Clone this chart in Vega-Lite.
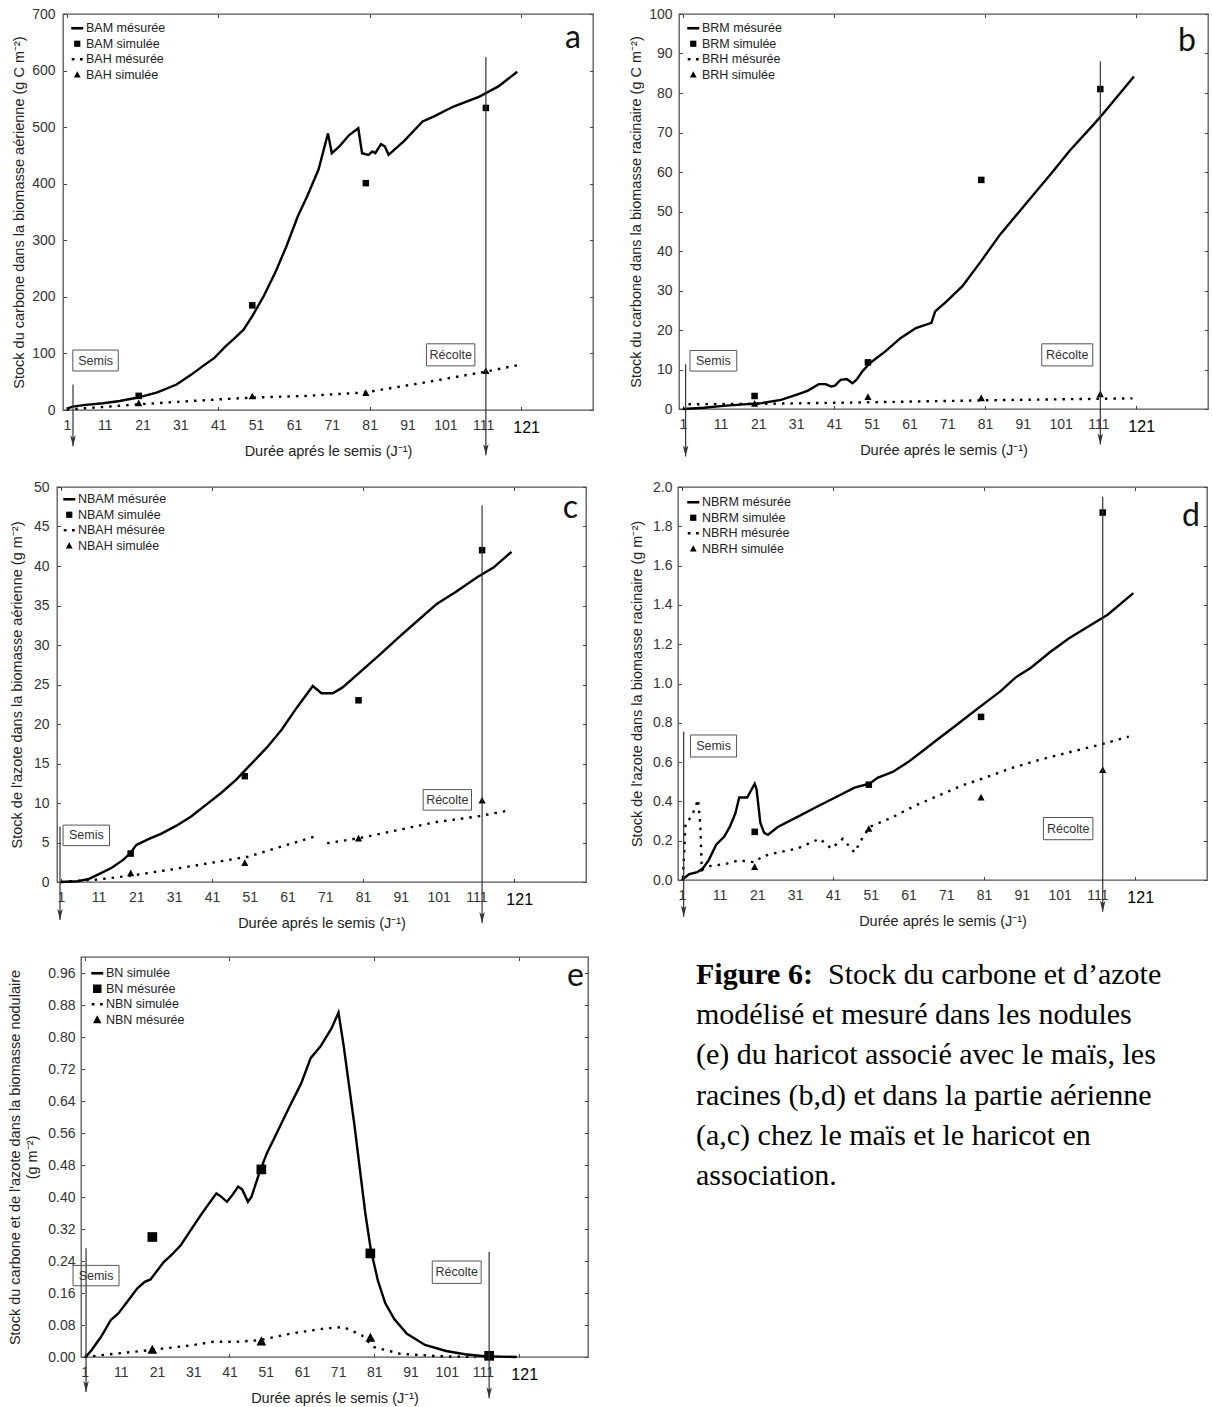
{
"$schema":"https://vega.github.io/schema/vega-lite/v6.json",
"background":"white",
"padding":{"left":0,"top":0,"right":0,"bottom":0},
"spacing":0,
"bounds":"flush",
"resolve":{"scale":{"shape":"independent"},"legend":{"shape":"independent"}},
"config":{
 "view":{"stroke":"#555","strokeWidth":1.3},
 "axis":{"grid":false,"labelFont":"Liberation Sans","labelFontSize":14,"labelColor":"#333","titleFont":"Liberation Sans","titleFontSize":14.5,"titleFontWeight":"normal","titleColor":"#222","tickColor":"#444","tickWidth":1},
 "legend":{"orient":"top-left","padding":0,"symbolSize":100,"labelFont":"Liberation Sans","labelFontSize":12.5,"labelColor":"#222","rowPadding":2.5,"labelOffset":2.5,"symbolFillColor":"#000","symbolStrokeWidth":0,"symbolOpacity":1,"labelLimit":0}
},
"datasets":{
 "a_solid":[{"day":1,"v":2},{"day":2.5,"v":6},{"day":6,"v":9},{"day":10.6,"v":12},{"day":15,"v":16},{"day":19.8,"v":22},{"day":24.9,"v":31},{"day":30,"v":45},{"day":34,"v":63},{"day":37,"v":78},{"day":40,"v":92},{"day":43,"v":113},{"day":45,"v":125},{"day":47.7,"v":142},{"day":50,"v":166},{"day":53,"v":201},{"day":56,"v":242},{"day":59,"v":289},{"day":62,"v":342},{"day":64.5,"v":378},{"day":67.5,"v":425},{"day":70,"v":489},{"day":71,"v":454},{"day":73,"v":466},{"day":75.6,"v":486},{"day":78,"v":498},{"day":79,"v":454},{"day":80.7,"v":451},{"day":81.7,"v":457},{"day":82.5,"v":454},{"day":84,"v":470},{"day":85,"v":466},{"day":86,"v":451},{"day":90,"v":475},{"day":95,"v":510},{"day":98,"v":519},{"day":103,"v":536},{"day":110,"v":554},{"day":115,"v":572},{"day":120,"v":598}],
 "a_dot":[{"day":1,"v":1},{"day":10,"v":5},{"day":19.8,"v":10},{"day":34,"v":16},{"day":50,"v":22},{"day":64.5,"v":25},{"day":79.7,"v":31},{"day":95,"v":48},{"day":111,"v":67},{"day":120,"v":79}],
 "a_pts":[{"day":20,"v":25,"s":"BAM simulée"},{"day":50,"v":185,"s":"BAM simulée"},{"day":80,"v":401,"s":"BAM simulée"},{"day":111.7,"v":534,"s":"BAM simulée"},{"day":20,"v":12,"s":"BAH simulée"},{"day":50,"v":24,"s":"BAH simulée"},{"day":80,"v":30,"s":"BAH simulée"},{"day":111.7,"v":69,"s":"BAH simulée"}],
 "a_arr":[{"day":2.64,"top":45,"tip":-64},{"day":111.7,"top":624,"tip":-80}],
 "a_box":[{"label":"Semis","x1":2.6,"x2":14.6,"y1":69,"y2":106,"xc":8.6,"yc":87.5},{"label":"Récolte","x1":96,"x2":108.8,"y1":78,"y2":117,"xc":102.4,"yc":97.5}],
 "b_solid":[{"day":1,"v":0},{"day":6.6,"v":0.3},{"day":11.7,"v":0.8},{"day":18.9,"v":1.3},{"day":21.9,"v":1.5},{"day":27,"v":2.3},{"day":31,"v":3.6},{"day":34,"v":4.6},{"day":37,"v":6.3},{"day":38.8,"v":6.3},{"day":40.3,"v":5.7},{"day":41.3,"v":5.9},{"day":42.8,"v":7.4},{"day":44.4,"v":7.6},{"day":45.9,"v":6.5},{"day":47,"v":7.4},{"day":48.5,"v":9.5},{"day":50.5,"v":11.6},{"day":54.6,"v":14.6},{"day":58.7,"v":18},{"day":62.7,"v":20.5},{"day":66.8,"v":21.8},{"day":67.8,"v":24.7},{"day":70.9,"v":27.3},{"day":75,"v":31.1},{"day":80,"v":37.5},{"day":85,"v":44.2},{"day":91.3,"v":51.4},{"day":98.4,"v":59.5},{"day":103.5,"v":65.5},{"day":109.7,"v":72},{"day":112,"v":74.5},{"day":120.4,"v":84.2}],
 "b_dot":[{"day":2.5,"v":1.2},{"day":21.9,"v":1.3},{"day":50.5,"v":1.7},{"day":81,"v":2.2},{"day":120,"v":2.7}],
 "b_pts":[{"day":20,"v":3.3,"s":"BRM simulée"},{"day":50,"v":11.8,"s":"BRM simulée"},{"day":80,"v":58,"s":"BRM simulée"},{"day":111.5,"v":81,"s":"BRM simulée"},{"day":20,"v":1.3,"s":"BRH simulée"},{"day":50,"v":3,"s":"BRH simulée"},{"day":80,"v":2.7,"s":"BRH simulée"},{"day":111.5,"v":3.7,"s":"BRH simulée"}],
 "b_arr":[{"day":1.75,"top":11.3,"tip":-12},{"day":111.5,"top":88,"tip":-9}],
 "b_box":[{"label":"Semis","x1":2.9,"x2":15.3,"y1":9.6,"y2":14.8,"xc":9.1,"yc":12.2},{"label":"Récolte","x1":96,"x2":109.5,"y1":10.9,"y2":16.5,"xc":102.75,"yc":13.7}],
 "c_solid":[{"day":1,"v":0},{"day":5.5,"v":0.1},{"day":8.5,"v":0.4},{"day":11.5,"v":1.1},{"day":14.5,"v":1.8},{"day":17.5,"v":2.8},{"day":19.5,"v":3.7},{"day":21,"v":4.7},{"day":24.5,"v":5.5},{"day":27.5,"v":6.1},{"day":31.5,"v":7.1},{"day":35.5,"v":8.3},{"day":39.5,"v":9.8},{"day":43.5,"v":11.3},{"day":47.5,"v":13},{"day":50.5,"v":14.5},{"day":55.5,"v":17},{"day":59.5,"v":19.3},{"day":63.5,"v":22.1},{"day":67.7,"v":24.8},{"day":70,"v":23.9},{"day":73,"v":23.9},{"day":75.5,"v":24.6},{"day":80.5,"v":26.7},{"day":85.5,"v":28.8},{"day":90.5,"v":31},{"day":95.5,"v":33.1},{"day":100.5,"v":35.2},{"day":105.5,"v":36.7},{"day":111.3,"v":38.6},{"day":115.5,"v":39.8},{"day":120.3,"v":41.8}],
 "c_dot":[{"day":1,"v":0,"g":1},{"day":10.5,"v":0.3,"g":1},{"day":19.5,"v":0.8,"g":1},{"day":30.5,"v":1.6,"g":1},{"day":40.5,"v":2.4,"g":1},{"day":50.5,"v":3.2,"g":1},{"day":59.5,"v":4.5,"g":1},{"day":68.5,"v":5.8,"g":1},{"day":71.5,"v":4.9,"g":2},{"day":80.5,"v":5.6,"g":2},{"day":90.5,"v":6.6,"g":2},{"day":100.5,"v":7.6,"g":2},{"day":111.3,"v":8.3,"g":2},{"day":120,"v":9.1,"g":2}],
 "c_pts":[{"day":19.5,"v":3.6,"s":"NBAM simulée"},{"day":49.7,"v":13.4,"s":"NBAM simulée"},{"day":79.8,"v":23,"s":"NBAM simulée"},{"day":112.5,"v":42,"s":"NBAM simulée"},{"day":19.5,"v":1.1,"s":"NBAH simulée"},{"day":49.7,"v":2.4,"s":"NBAH simulée"},{"day":79.8,"v":5.5,"s":"NBAH simulée"},{"day":112.5,"v":10.3,"s":"NBAH simulée"}],
 "c_arr":[{"day":0.8,"top":7,"tip":-4.8},{"day":112.5,"top":47.7,"tip":-5.2}],
 "c_box":[{"label":"Semis","x1":1.6,"x2":13.9,"y1":4.6,"y2":7.2,"xc":7.75,"yc":5.9},{"label":"Récolte","x1":96.9,"x2":109.7,"y1":9.1,"y2":11.7,"xc":103.3,"yc":10.4}],
 "d_solid":[{"day":1,"v":0},{"day":3,"v":0.03},{"day":5.1,"v":0.04},{"day":6.6,"v":0.06},{"day":8.1,"v":0.1},{"day":10.1,"v":0.18},{"day":12.2,"v":0.22},{"day":13.7,"v":0.27},{"day":15.2,"v":0.34},{"day":16.2,"v":0.42},{"day":18.3,"v":0.42},{"day":20.3,"v":0.49},{"day":20.8,"v":0.46},{"day":21.8,"v":0.29},{"day":22.8,"v":0.24},{"day":23.8,"v":0.23},{"day":26.4,"v":0.27},{"day":31.5,"v":0.32},{"day":36.5,"v":0.37},{"day":41.6,"v":0.42},{"day":46.7,"v":0.47},{"day":50.7,"v":0.49},{"day":52.8,"v":0.52},{"day":56.8,"v":0.55},{"day":60.9,"v":0.6},{"day":65,"v":0.66},{"day":69,"v":0.72},{"day":73.1,"v":0.78},{"day":77.1,"v":0.84},{"day":81.2,"v":0.9},{"day":85.3,"v":0.96},{"day":89.3,"v":1.03},{"day":93.4,"v":1.08},{"day":98.5,"v":1.16},{"day":103.5,"v":1.23},{"day":108.6,"v":1.29},{"day":113.7,"v":1.35},{"day":120.5,"v":1.46}],
 "d_dot":[{"day":1.3,"v":0.01},{"day":2,"v":0.29},{"day":3.5,"v":0.32},{"day":4.6,"v":0.37},{"day":5.3,"v":0.41},{"day":5.9,"v":0.28},{"day":6.3,"v":0.05},{"day":8.1,"v":0.07},{"day":12.2,"v":0.08},{"day":16.2,"v":0.1},{"day":20.3,"v":0.09},{"day":22.3,"v":0.12},{"day":26.4,"v":0.14},{"day":31.5,"v":0.16},{"day":37.5,"v":0.21},{"day":40.6,"v":0.16},{"day":43.6,"v":0.21},{"day":46.7,"v":0.14},{"day":48.7,"v":0.21},{"day":50.7,"v":0.27},{"day":56.8,"v":0.32},{"day":62.9,"v":0.38},{"day":69,"v":0.43},{"day":75.1,"v":0.48},{"day":81.2,"v":0.52},{"day":88.3,"v":0.57},{"day":95.4,"v":0.61},{"day":103.5,"v":0.65},{"day":112,"v":0.69},{"day":119.3,"v":0.73}],
 "d_pts":[{"day":20.3,"v":0.245,"s":"NBRM simulée"},{"day":50.5,"v":0.485,"s":"NBRM simulée"},{"day":80.2,"v":0.83,"s":"NBRM simulée"},{"day":112.4,"v":1.87,"s":"NBRM simulée"},{"day":20.3,"v":0.066,"s":"NBRH simulée"},{"day":50.5,"v":0.26,"s":"NBRH simulée"},{"day":80.2,"v":0.42,"s":"NBRH simulée"},{"day":112.4,"v":0.56,"s":"NBRH simulée"}],
 "d_arr":[{"day":1.5,"top":0.755,"tip":-0.187},{"day":112.4,"top":1.95,"tip":-0.161}],
 "d_box":[{"label":"Semis","x1":3.3,"x2":15.5,"y1":0.626,"y2":0.738,"xc":9.4,"yc":0.682},{"label":"Récolte","x1":96.7,"x2":109.8,"y1":0.205,"y2":0.318,"xc":103.25,"yc":0.2615}],
 "e_solid":[{"day":1.3,"v":0},{"day":2.9,"v":0.017},{"day":5.5,"v":0.05},{"day":8.2,"v":0.092},{"day":10.3,"v":0.109},{"day":12.4,"v":0.134},{"day":15.5,"v":0.171},{"day":17.6,"v":0.188},{"day":19.2,"v":0.194},{"day":20.8,"v":0.213},{"day":22.9,"v":0.238},{"day":25,"v":0.255},{"day":27.6,"v":0.28},{"day":30.3,"v":0.317},{"day":33.4,"v":0.359},{"day":36,"v":0.392},{"day":37.4,"v":0.409},{"day":38.7,"v":0.401},{"day":40.3,"v":0.388},{"day":41.8,"v":0.405},{"day":43.4,"v":0.426},{"day":44.5,"v":0.419},{"day":46.1,"v":0.388},{"day":47.1,"v":0.401},{"day":49.2,"v":0.459},{"day":51.3,"v":0.509},{"day":54.5,"v":0.568},{"day":57.6,"v":0.626},{"day":60.8,"v":0.684},{"day":63.4,"v":0.747},{"day":66.1,"v":0.776},{"day":69.2,"v":0.822},{"day":71.1,"v":0.861},{"day":72.5,"v":0.78},{"day":74,"v":0.68},{"day":75.5,"v":0.58},{"day":77,"v":0.47},{"day":78.5,"v":0.36},{"day":80,"v":0.27},{"day":82,"v":0.19},{"day":84,"v":0.135},{"day":86.5,"v":0.095},{"day":90,"v":0.058},{"day":95,"v":0.03},{"day":100.8,"v":0.015},{"day":106,"v":0.007},{"day":111.3,"v":0.002},{"day":120.3,"v":0}],
 "e_dot":[{"day":1,"v":0},{"day":9.2,"v":0.008},{"day":19.7,"v":0.018},{"day":30.3,"v":0.029},{"day":36.6,"v":0.038},{"day":42.9,"v":0.038},{"day":49.2,"v":0.042},{"day":57.6,"v":0.058},{"day":67.1,"v":0.071},{"day":72.4,"v":0.075},{"day":77.6,"v":0.054},{"day":80.8,"v":0.025},{"day":88.2,"v":0.008},{"day":98.7,"v":0.002},{"day":109,"v":0}],
 "e_pts":[{"day":19.7,"v":0.3,"s":"BN mésurée"},{"day":49.8,"v":0.469,"s":"BN mésurée"},{"day":79.9,"v":0.259,"s":"BN mésurée"},{"day":112.7,"v":0.003,"s":"BN mésurée"},{"day":19.7,"v":0.018,"s":"NBN mésurée"},{"day":49.8,"v":0.039,"s":"NBN mésurée"},{"day":79.9,"v":0.048,"s":"NBN mésurée"}],
 "e_arr":[{"day":1.4,"top":0.272,"tip":-0.0875},{"day":112.7,"top":0.263,"tip":-0.103}],
 "e_box":[{"label":"Semis","x1":-2.2,"x2":10.5,"y1":0.178,"y2":0.229,"xc":4.15,"yc":0.2035},{"label":"Récolte","x1":97,"x2":110.5,"y1":0.184,"y2":0.24,"xc":103.75,"yc":0.212}],
 "cap_bold":[{"line":1,"t":"Figure 6:"}],
 "cap_first":[{"line":1,"t":"Stock du carbone et d’azote"}],
 "cap_rest":[{"line":2,"t":"modélisé et mesuré dans les nodules"},{"line":3,"t":"(e) du haricot associé avec le maïs, les"},{"line":4,"t":"racines (b,d) et dans la partie aérienne"},{"line":5,"t":"(a,c) chez le maïs et le haricot en"},{"line":6,"t":"association."}]
},
"vconcat":[
 {"vconcat":[
  {"width":1,"height":14,"view":{"stroke":null},"data":{"values":[]},"mark":"point"},
  {"hconcat":[
   {"width":62.7,"height":1,"view":{"stroke":null},"data":{"values":[]},"mark":"point"},
   {"hconcat":[
    {"width":530,"height":396,
     "title":{"text":"a","anchor":"end","frame":"group","orient":"top","offset":0,"dx":-12,"dy":73,"baseline":"alphabetic","font":"Lato","fontSize":32,"fontWeight":"normal","color":"#111"},
     "resolve":{"axis":{"x":"independent","y":"independent"}},
     "layer":[
      {"data":{"name":"a_solid"},"mark":{"type":"line","color":"#000","strokeWidth":2.4},
       "encoding":{"x":{"field":"day","type":"quantitative","scale":{"domain":[0,140],"nice":false,"zero":false},"axis":{"orient":"bottom","values":[1,11,21,31,41,51,61,71,81,91,101,111,121],"ticks":false,"tickSize":0,"domain":false,"labelPadding":{"condition":{"test":"datum.value === 121","value":9.5},"value":8},"labelOffset":{"condition":{"test":"datum.value === 121","value":5},"value":0},"labelFlush":false,"labelOverlap":false,"labelFontSize":{"condition":{"test":"datum.value === 121","value":16},"value":14},"labelColor":{"condition":{"test":"datum.value === 121","value":"#000"},"value":"#333"},"title":"Durée aprés le semis (J⁻¹)","titleY":45,"titleBaseline":"alphabetic"}},
        "y":{"field":"v","type":"quantitative","scale":{"domain":[0,700],"nice":false},"axis":{"orient":"left","values":[0,100,200,300,400,500,600,700],"ticks":false,"tickSize":0,"domain":false,"labelPadding":8,"labelFlush":false,"title":"Stock du carbone dans la biomasse aérienne (g C m⁻²)","titleX":-44,"titleBaseline":"middle"}}}},
      {"data":{"name":"a_dot"},"mark":{"type":"line","color":"#000","strokeWidth":2.4,"strokeDash":[2.5,6],"strokeCap":"butt"},
       "encoding":{"x":{"field":"day","type":"quantitative","axis":{"orient":"bottom","values":[1,41,81,121],"labels":false,"domain":false,"tickSize":3.5,"offset":-3.5,"title":null}},
        "y":{"field":"v","type":"quantitative","axis":{"orient":"left","values":[0,100,200,300,400,500,600,700],"labels":false,"domain":false,"tickSize":3.5,"offset":-3.5,"title":null}}}},
      {"data":{"name":"a_pts"},"mark":{"type":"point","filled":true,"color":"#000","opacity":1,"size":110,"strokeWidth":0},
       "encoding":{"x":{"field":"day","type":"quantitative","axis":{"orient":"top","values":[1,41,81,121],"labels":false,"domain":false,"tickSize":3.5,"offset":-3.5,"title":null}},
        "y":{"field":"v","type":"quantitative","axis":{"orient":"right","values":[0,100,200,300,400,500,600,700],"labels":false,"domain":false,"tickSize":3.5,"offset":-3.5,"title":null}},
        "shape":{"field":"s","type":"nominal","scale":{"domain":["BAM mésurée","BAM simulée","BAH mésurée","BAH simulée"],"range":["M-1.2,-0.26H1.2V0.26H-1.2Z","M-0.62,-0.62H0.62V0.62H-0.62Z","M-1.1,-0.27H-0.55V0.27H-1.1Z M0.55,-0.27H1.1V0.27H0.55Z","M0,-0.72L0.68,0.56H-0.68Z"]},"legend":{"title":null,"orient":"top-left","offset":8}}}},
      {"data":{"name":"a_arr"},"mark":{"type":"rule","color":"#333","strokeWidth":1.2},"encoding":{"x":{"field":"day","type":"quantitative","axis":null},"y":{"field":"top","type":"quantitative","axis":null},"y2":{"field":"tip"}}},
      {"data":{"name":"a_arr"},"mark":{"type":"point","shape":"M0,0L-0.5,-2L0,-1.5L0.5,-2Z","filled":true,"color":"#333","opacity":1,"size":121,"strokeWidth":0},"encoding":{"x":{"field":"day","type":"quantitative","axis":null},"y":{"field":"tip","type":"quantitative","axis":null}}},
      {"data":{"name":"a_box"},"mark":{"type":"rect","fill":"transparent","stroke":"#555","strokeWidth":1},"encoding":{"x":{"field":"x1","type":"quantitative","axis":null},"x2":{"field":"x2"},"y":{"field":"y1","type":"quantitative","axis":null},"y2":{"field":"y2"}}},
      {"data":{"name":"a_box"},"mark":{"type":"text","font":"Liberation Sans","fontSize":12.5,"color":"#333","baseline":"middle","align":"center"},"encoding":{"x":{"field":"xc","type":"quantitative","axis":null},"y":{"field":"yc","type":"quantitative","axis":null},"text":{"field":"label"}}}
     ]},
    {"width":529,"height":395,
     "title":{"text":"b","anchor":"end","frame":"group","orient":"top","offset":0,"dx":-12,"dy":76,"baseline":"alphabetic","font":"Lato","fontSize":32,"fontWeight":"normal","color":"#111"},
     "resolve":{"axis":{"x":"independent","y":"independent"}},
     "layer":[
      {"data":{"name":"b_solid"},"mark":{"type":"line","color":"#000","strokeWidth":2.4},
       "encoding":{"x":{"field":"day","type":"quantitative","scale":{"domain":[0,140],"nice":false,"zero":false},"axis":{"orient":"bottom","values":[1,11,21,31,41,51,61,71,81,91,101,111,121],"ticks":false,"tickSize":0,"domain":false,"labelPadding":{"condition":{"test":"datum.value === 121","value":9.5},"value":8},"labelOffset":{"condition":{"test":"datum.value === 121","value":5},"value":0},"labelFlush":false,"labelOverlap":false,"labelFontSize":{"condition":{"test":"datum.value === 121","value":16},"value":14},"labelColor":{"condition":{"test":"datum.value === 121","value":"#000"},"value":"#333"},"title":"Durée aprés le semis (J⁻¹)","titleY":45,"titleBaseline":"alphabetic"}},
        "y":{"field":"v","type":"quantitative","scale":{"domain":[0,100],"nice":false},"axis":{"orient":"left","values":[0,10,20,30,40,50,60,70,80,90,100],"ticks":false,"tickSize":0,"domain":false,"labelPadding":7,"labelFlush":false,"title":"Stock du carbone dans la biomasse racinaire (g C m⁻²)","titleX":-42.7,"titleBaseline":"middle"}}}},
      {"data":{"name":"b_dot"},"mark":{"type":"line","color":"#000","strokeWidth":2.4,"strokeDash":[2.5,6],"strokeCap":"butt"},
       "encoding":{"x":{"field":"day","type":"quantitative","axis":{"orient":"bottom","values":[1,41,81,121],"labels":false,"domain":false,"tickSize":3.5,"offset":-3.5,"title":null}},
        "y":{"field":"v","type":"quantitative","axis":{"orient":"left","values":[0,10,20,30,40,50,60,70,80,90,100],"labels":false,"domain":false,"tickSize":3.5,"offset":-3.5,"title":null}}}},
      {"data":{"name":"b_pts"},"mark":{"type":"point","filled":true,"color":"#000","opacity":1,"size":110,"strokeWidth":0},
       "encoding":{"x":{"field":"day","type":"quantitative","axis":{"orient":"top","values":[1,41,81,121],"labels":false,"domain":false,"tickSize":3.5,"offset":-3.5,"title":null}},
        "y":{"field":"v","type":"quantitative","axis":{"orient":"right","values":[0,10,20,30,40,50,60,70,80,90,100],"labels":false,"domain":false,"tickSize":3.5,"offset":-3.5,"title":null}},
        "shape":{"field":"s","type":"nominal","scale":{"domain":["BRM mésurée","BRM simulée","BRH mésurée","BRH simulée"],"range":["M-1.2,-0.26H1.2V0.26H-1.2Z","M-0.62,-0.62H0.62V0.62H-0.62Z","M-1.1,-0.27H-0.55V0.27H-1.1Z M0.55,-0.27H1.1V0.27H0.55Z","M0,-0.72L0.68,0.56H-0.68Z"]},"legend":{"title":null,"orient":"top-left","offset":8}}}},
      {"data":{"name":"b_arr"},"mark":{"type":"rule","color":"#333","strokeWidth":1.2},"encoding":{"x":{"field":"day","type":"quantitative","axis":null},"y":{"field":"top","type":"quantitative","axis":null},"y2":{"field":"tip"}}},
      {"data":{"name":"b_arr"},"mark":{"type":"point","shape":"M0,0L-0.5,-2L0,-1.5L0.5,-2Z","filled":true,"color":"#333","opacity":1,"size":121,"strokeWidth":0},"encoding":{"x":{"field":"day","type":"quantitative","axis":null},"y":{"field":"tip","type":"quantitative","axis":null}}},
      {"data":{"name":"b_box"},"mark":{"type":"rect","fill":"transparent","stroke":"#555","strokeWidth":1},"encoding":{"x":{"field":"x1","type":"quantitative","axis":null},"x2":{"field":"x2"},"y":{"field":"y1","type":"quantitative","axis":null},"y2":{"field":"y2"}}},
      {"data":{"name":"b_box"},"mark":{"type":"text","font":"Liberation Sans","fontSize":12.5,"color":"#333","baseline":"middle","align":"center"},"encoding":{"x":{"field":"xc","type":"quantitative","axis":null},"y":{"field":"yc","type":"quantitative","axis":null},"text":{"field":"label"}}}
     ]}
   ],"spacing":86,"bounds":"flush","resolve":{"scale":{"shape":"independent"},"legend":{"shape":"independent"}}}
  ],"spacing":0,"bounds":"flush","resolve":{"scale":{"shape":"independent"},"legend":{"shape":"independent"}}}
 ],"spacing":0,"bounds":"flush","resolve":{"scale":{"shape":"independent"},"legend":{"shape":"independent"}}},
 {"vconcat":[
  {"width":1,"height":487,"view":{"stroke":null},"data":{"values":[]},"mark":"point"},
  {"hconcat":[
   {"width":57,"height":1,"view":{"stroke":null},"data":{"values":[]},"mark":"point"},
   {"hconcat":[
    {"width":529,"height":395,
     "title":{"text":"c","anchor":"end","frame":"group","orient":"top","offset":0,"dx":-8,"dy":70,"baseline":"alphabetic","font":"Lato","fontSize":32,"fontWeight":"normal","color":"#111"},
     "resolve":{"axis":{"x":"independent","y":"independent"}},
     "layer":[
      {"data":{"name":"c_solid"},"mark":{"type":"line","color":"#000","strokeWidth":2.4},
       "encoding":{"x":{"field":"day","type":"quantitative","scale":{"domain":[0,140],"nice":false,"zero":false},"axis":{"orient":"bottom","values":[1,11,21,31,41,51,61,71,81,91,101,111,121],"ticks":false,"tickSize":0,"domain":false,"labelPadding":{"condition":{"test":"datum.value === 121","value":9.5},"value":8},"labelOffset":{"condition":{"test":"datum.value === 121","value":5},"value":0},"labelFlush":false,"labelOverlap":false,"labelFontSize":{"condition":{"test":"datum.value === 121","value":16},"value":14},"labelColor":{"condition":{"test":"datum.value === 121","value":"#000"},"value":"#333"},"title":"Durée aprés le semis (J⁻¹)","titleY":45,"titleBaseline":"alphabetic"}},
        "y":{"field":"v","type":"quantitative","scale":{"domain":[0,50],"nice":false},"axis":{"orient":"left","values":[0,5,10,15,20,25,30,35,40,45,50],"ticks":false,"tickSize":0,"domain":false,"labelPadding":8,"labelFlush":false,"title":"Stock de l'azote dans la biomasse aérienne (g m⁻²)","titleX":-39.25,"titleBaseline":"middle"}}}},
      {"data":{"name":"c_dot"},"mark":{"type":"line","color":"#000","strokeWidth":2.4,"strokeDash":[2.5,6],"strokeCap":"butt"},
       "encoding":{"x":{"field":"day","type":"quantitative","axis":{"orient":"bottom","values":[1,41,81,121],"labels":false,"domain":false,"tickSize":3.5,"offset":-3.5,"title":null}},
        "y":{"field":"v","type":"quantitative","axis":{"orient":"left","values":[0,5,10,15,20,25,30,35,40,45,50],"labels":false,"domain":false,"tickSize":3.5,"offset":-3.5,"title":null}},
        "detail":{"field":"g","type":"nominal"}}},
      {"data":{"name":"c_pts"},"mark":{"type":"point","filled":true,"color":"#000","opacity":1,"size":110,"strokeWidth":0},
       "encoding":{"x":{"field":"day","type":"quantitative","axis":{"orient":"top","values":[1,41,81,121],"labels":false,"domain":false,"tickSize":3.5,"offset":-3.5,"title":null}},
        "y":{"field":"v","type":"quantitative","axis":{"orient":"right","values":[0,5,10,15,20,25,30,35,40,45,50],"labels":false,"domain":false,"tickSize":3.5,"offset":-3.5,"title":null}},
        "shape":{"field":"s","type":"nominal","scale":{"domain":["NBAM mésurée","NBAM simulée","NBAH mésurée","NBAH simulée"],"range":["M-1.2,-0.26H1.2V0.26H-1.2Z","M-0.62,-0.62H0.62V0.62H-0.62Z","M-1.1,-0.27H-0.55V0.27H-1.1Z M0.55,-0.27H1.1V0.27H0.55Z","M0,-0.72L0.68,0.56H-0.68Z"]},"legend":{"title":null,"orient":"top-left","offset":6}}}},
      {"data":{"name":"c_arr"},"mark":{"type":"rule","color":"#333","strokeWidth":1.2},"encoding":{"x":{"field":"day","type":"quantitative","axis":null},"y":{"field":"top","type":"quantitative","axis":null},"y2":{"field":"tip"}}},
      {"data":{"name":"c_arr"},"mark":{"type":"point","shape":"M0,0L-0.5,-2L0,-1.5L0.5,-2Z","filled":true,"color":"#333","opacity":1,"size":121,"strokeWidth":0},"encoding":{"x":{"field":"day","type":"quantitative","axis":null},"y":{"field":"tip","type":"quantitative","axis":null}}},
      {"data":{"name":"c_box"},"mark":{"type":"rect","fill":"transparent","stroke":"#555","strokeWidth":1},"encoding":{"x":{"field":"x1","type":"quantitative","axis":null},"x2":{"field":"x2"},"y":{"field":"y1","type":"quantitative","axis":null},"y2":{"field":"y2"}}},
      {"data":{"name":"c_box"},"mark":{"type":"text","font":"Liberation Sans","fontSize":12.5,"color":"#333","baseline":"middle","align":"center"},"encoding":{"x":{"field":"xc","type":"quantitative","axis":null},"y":{"field":"yc","type":"quantitative","axis":null},"text":{"field":"label"}}}
     ]},
    {"width":529,"height":393,
     "title":{"text":"d","anchor":"end","frame":"group","orient":"top","offset":0,"dx":-7,"dy":78,"baseline":"alphabetic","font":"Lato","fontSize":32,"fontWeight":"normal","color":"#111"},
     "resolve":{"axis":{"x":"independent","y":"independent"}},
     "layer":[
      {"data":{"name":"d_solid"},"mark":{"type":"line","color":"#000","strokeWidth":2.4},
       "encoding":{"x":{"field":"day","type":"quantitative","scale":{"domain":[0,140],"nice":false,"zero":false},"axis":{"orient":"bottom","values":[1,11,21,31,41,51,61,71,81,91,101,111,121],"ticks":false,"tickSize":0,"domain":false,"labelPadding":{"condition":{"test":"datum.value === 121","value":9.5},"value":8},"labelOffset":{"condition":{"test":"datum.value === 121","value":5},"value":0},"labelFlush":false,"labelOverlap":false,"labelFontSize":{"condition":{"test":"datum.value === 121","value":16},"value":14},"labelColor":{"condition":{"test":"datum.value === 121","value":"#000"},"value":"#333"},"title":"Durée aprés le semis (J⁻¹)","titleY":45,"titleBaseline":"alphabetic"}},
        "y":{"field":"v","type":"quantitative","scale":{"domain":[0,2],"nice":false},"axis":{"orient":"left","values":[0,0.2,0.4,0.6,0.8,1,1.2,1.4,1.6,1.8,2],"format":".1f","ticks":false,"tickSize":0,"domain":false,"labelPadding":6,"labelFlush":false,"title":"Stock de l'azote dans la biomasse racinaire (g m⁻²)","titleX":-41,"titleBaseline":"middle"}}}},
      {"data":{"name":"d_dot"},"mark":{"type":"line","color":"#000","strokeWidth":2.4,"strokeDash":[2.5,6],"strokeCap":"butt"},
       "encoding":{"x":{"field":"day","type":"quantitative","axis":{"orient":"bottom","values":[1,41,81,121],"labels":false,"domain":false,"tickSize":3.5,"offset":-3.5,"title":null}},
        "y":{"field":"v","type":"quantitative","axis":{"orient":"left","values":[0,0.2,0.4,0.6,0.8,1,1.2,1.4,1.6,1.8,2],"labels":false,"domain":false,"tickSize":3.5,"offset":-3.5,"title":null}}}},
      {"data":{"name":"d_pts"},"mark":{"type":"point","filled":true,"color":"#000","opacity":1,"size":110,"strokeWidth":0},
       "encoding":{"x":{"field":"day","type":"quantitative","axis":{"orient":"top","values":[1,41,81,121],"labels":false,"domain":false,"tickSize":3.5,"offset":-3.5,"title":null}},
        "y":{"field":"v","type":"quantitative","axis":{"orient":"right","values":[0,0.2,0.4,0.6,0.8,1,1.2,1.4,1.6,1.8,2],"labels":false,"domain":false,"tickSize":3.5,"offset":-3.5,"title":null}},
        "shape":{"field":"s","type":"nominal","scale":{"domain":["NBRM mésurée","NBRM simulée","NBRH mésurée","NBRH simulée"],"range":["M-1.2,-0.26H1.2V0.26H-1.2Z","M-0.62,-0.62H0.62V0.62H-0.62Z","M-1.1,-0.27H-0.55V0.27H-1.1Z M0.55,-0.27H1.1V0.27H0.55Z","M0,-0.72L0.68,0.56H-0.68Z"]},"legend":{"title":null,"orient":"top-left","offset":9}}}},
      {"data":{"name":"d_arr"},"mark":{"type":"rule","color":"#333","strokeWidth":1.2},"encoding":{"x":{"field":"day","type":"quantitative","axis":null},"y":{"field":"top","type":"quantitative","axis":null},"y2":{"field":"tip"}}},
      {"data":{"name":"d_arr"},"mark":{"type":"point","shape":"M0,0L-0.5,-2L0,-1.5L0.5,-2Z","filled":true,"color":"#333","opacity":1,"size":121,"strokeWidth":0},"encoding":{"x":{"field":"day","type":"quantitative","axis":null},"y":{"field":"tip","type":"quantitative","axis":null}}},
      {"data":{"name":"d_box"},"mark":{"type":"rect","fill":"transparent","stroke":"#555","strokeWidth":1},"encoding":{"x":{"field":"x1","type":"quantitative","axis":null},"x2":{"field":"x2"},"y":{"field":"y1","type":"quantitative","axis":null},"y2":{"field":"y2"}}},
      {"data":{"name":"d_box"},"mark":{"type":"text","font":"Liberation Sans","fontSize":12.5,"color":"#333","baseline":"middle","align":"center"},"encoding":{"x":{"field":"xc","type":"quantitative","axis":null},"y":{"field":"yc","type":"quantitative","axis":null},"text":{"field":"label"}}}
     ]}
   ],"spacing":92,"bounds":"flush","resolve":{"scale":{"shape":"independent"},"legend":{"shape":"independent"}}}
  ],"spacing":0,"bounds":"flush","resolve":{"scale":{"shape":"independent"},"legend":{"shape":"independent"}}}
 ],"spacing":0,"bounds":"flush","resolve":{"scale":{"shape":"independent"},"legend":{"shape":"independent"}}},
 {"vconcat":[
  {"width":1,"height":957,"view":{"stroke":null},"data":{"values":[]},"mark":"point"},
  {"hconcat":[
   {"width":81,"height":1,"view":{"stroke":null},"data":{"values":[]},"mark":"point"},
   {"hconcat":[
    {"width":507,"height":400,
     "title":{"text":"e","anchor":"end","frame":"group","orient":"top","offset":0,"dx":-4,"dy":61,"baseline":"alphabetic","font":"Lato","fontSize":32,"fontWeight":"normal","color":"#111"},
     "resolve":{"axis":{"x":"independent","y":"independent"}},
     "layer":[
      {"data":{"name":"e_solid"},"mark":{"type":"line","color":"#000","strokeWidth":2.4},
       "encoding":{"x":{"field":"day","type":"quantitative","scale":{"domain":[0,140],"nice":false,"zero":false},"axis":{"orient":"bottom","values":[1,11,21,31,41,51,61,71,81,91,101,111,121],"ticks":false,"tickSize":0,"domain":false,"labelPadding":{"condition":{"test":"datum.value === 121","value":9.5},"value":8},"labelOffset":{"condition":{"test":"datum.value === 121","value":5},"value":0},"labelFlush":false,"labelOverlap":false,"labelFontSize":{"condition":{"test":"datum.value === 121","value":16},"value":14},"labelColor":{"condition":{"test":"datum.value === 121","value":"#000"},"value":"#333"},"title":"Durée aprés le semis (J⁻¹)","titleY":45,"titleBaseline":"alphabetic"}},
        "y":{"field":"v","type":"quantitative","scale":{"domain":[0,1],"nice":false},"axis":{"orient":"left","values":[0,0.08,0.16,0.24,0.32,0.4,0.48,0.56,0.64,0.72,0.8,0.88,0.96],"format":".2f","ticks":false,"tickSize":0,"domain":false,"labelPadding":6,"labelFlush":false,"title":["Stock du carbone et de l'azote dans la biomasse nodulaire","(g m⁻²)"],"titleX":-66,"titleBaseline":"middle","titleLineHeight":17}}}},
      {"data":{"name":"e_dot"},"mark":{"type":"line","color":"#000","strokeWidth":2.4,"strokeDash":[2.5,6],"strokeCap":"butt"},
       "encoding":{"x":{"field":"day","type":"quantitative","axis":{"orient":"bottom","values":[1,41,81,121],"labels":false,"domain":false,"tickSize":3.5,"offset":-3.5,"title":null}},
        "y":{"field":"v","type":"quantitative","axis":{"orient":"left","values":[0,0.08,0.16,0.24,0.32,0.4,0.48,0.56,0.64,0.72,0.8,0.88,0.96],"labels":false,"domain":false,"tickSize":3.5,"offset":-3.5,"title":null}}}},
      {"data":{"name":"e_pts"},"mark":{"type":"point","filled":true,"color":"#000","opacity":1,"size":130,"strokeWidth":0},
       "encoding":{"x":{"field":"day","type":"quantitative","axis":{"orient":"top","values":[1,41,81,121],"labels":false,"domain":false,"tickSize":3.5,"offset":-3.5,"title":null}},
        "y":{"field":"v","type":"quantitative","axis":{"orient":"right","values":[0,0.08,0.16,0.24,0.32,0.4,0.48,0.56,0.64,0.72,0.8,0.88,0.96],"labels":false,"domain":false,"tickSize":3.5,"offset":-3.5,"title":null}},
        "shape":{"field":"s","type":"nominal","scale":{"domain":["BN simulée","BN mésurée","NBN simulée","NBN mésurée"],"range":["M-1.2,-0.26H1.2V0.26H-1.2Z","M-0.85,-0.85H0.85V0.85H-0.85Z","M-1.1,-0.27H-0.55V0.27H-1.1Z M0.55,-0.27H1.1V0.27H0.55Z","M0,-0.9L0.85,0.7H-0.85Z"]},"legend":{"title":null,"orient":"top-left","offset":10}}}},
      {"data":{"name":"e_arr"},"mark":{"type":"rule","color":"#333","strokeWidth":1.2},"encoding":{"x":{"field":"day","type":"quantitative","axis":null},"y":{"field":"top","type":"quantitative","axis":null},"y2":{"field":"tip"}}},
      {"data":{"name":"e_arr"},"mark":{"type":"point","shape":"M0,0L-0.5,-2L0,-1.5L0.5,-2Z","filled":true,"color":"#333","opacity":1,"size":121,"strokeWidth":0},"encoding":{"x":{"field":"day","type":"quantitative","axis":null},"y":{"field":"tip","type":"quantitative","axis":null}}},
      {"data":{"name":"e_box"},"mark":{"type":"rect","fill":"transparent","stroke":"#555","strokeWidth":1},"encoding":{"x":{"field":"x1","type":"quantitative","axis":null},"x2":{"field":"x2"},"y":{"field":"y1","type":"quantitative","axis":null},"y2":{"field":"y2"}}},
      {"data":{"name":"e_box"},"mark":{"type":"text","font":"Liberation Sans","fontSize":12.5,"color":"#333","baseline":"middle","align":"center"},"encoding":{"x":{"field":"xc","type":"quantitative","axis":null},"y":{"field":"yc","type":"quantitative","axis":null},"text":{"field":"label"}}}
     ]},
    {"width":495,"height":240,"view":{"stroke":null},
     "layer":[
      {"data":{"name":"cap_bold"},"mark":{"type":"text","font":"Liberation Serif","fontSize":30,"fontWeight":"bold","align":"left","baseline":"alphabetic","color":"#000"},
       "encoding":{"x":{"datum":0,"type":"quantitative","scale":{"domain":[0,1]},"axis":null},"y":{"field":"line","type":"quantitative","scale":{"domain":[0.3375,6.293],"reverse":true,"nice":false,"zero":false},"axis":null},"text":{"field":"t"}}},
      {"data":{"name":"cap_first"},"mark":{"type":"text","font":"Liberation Serif","fontSize":30,"align":"left","baseline":"alphabetic","color":"#000","dx":132},
       "encoding":{"x":{"datum":0,"type":"quantitative","axis":null},"y":{"field":"line","type":"quantitative","axis":null},"text":{"field":"t"}}},
      {"data":{"name":"cap_rest"},"mark":{"type":"text","font":"Liberation Serif","fontSize":30,"align":"left","baseline":"alphabetic","color":"#000"},
       "encoding":{"x":{"datum":0,"type":"quantitative","axis":null},"y":{"field":"line","type":"quantitative","axis":null},"text":{"field":"t"}}}
     ]}
   ],"spacing":108,"bounds":"flush","resolve":{"scale":{"shape":"independent"},"legend":{"shape":"independent"}}}
  ],"spacing":0,"bounds":"flush","resolve":{"scale":{"shape":"independent"},"legend":{"shape":"independent"}}}
 ],"spacing":0,"bounds":"flush","resolve":{"scale":{"shape":"independent"},"legend":{"shape":"independent"}}}
]
}
